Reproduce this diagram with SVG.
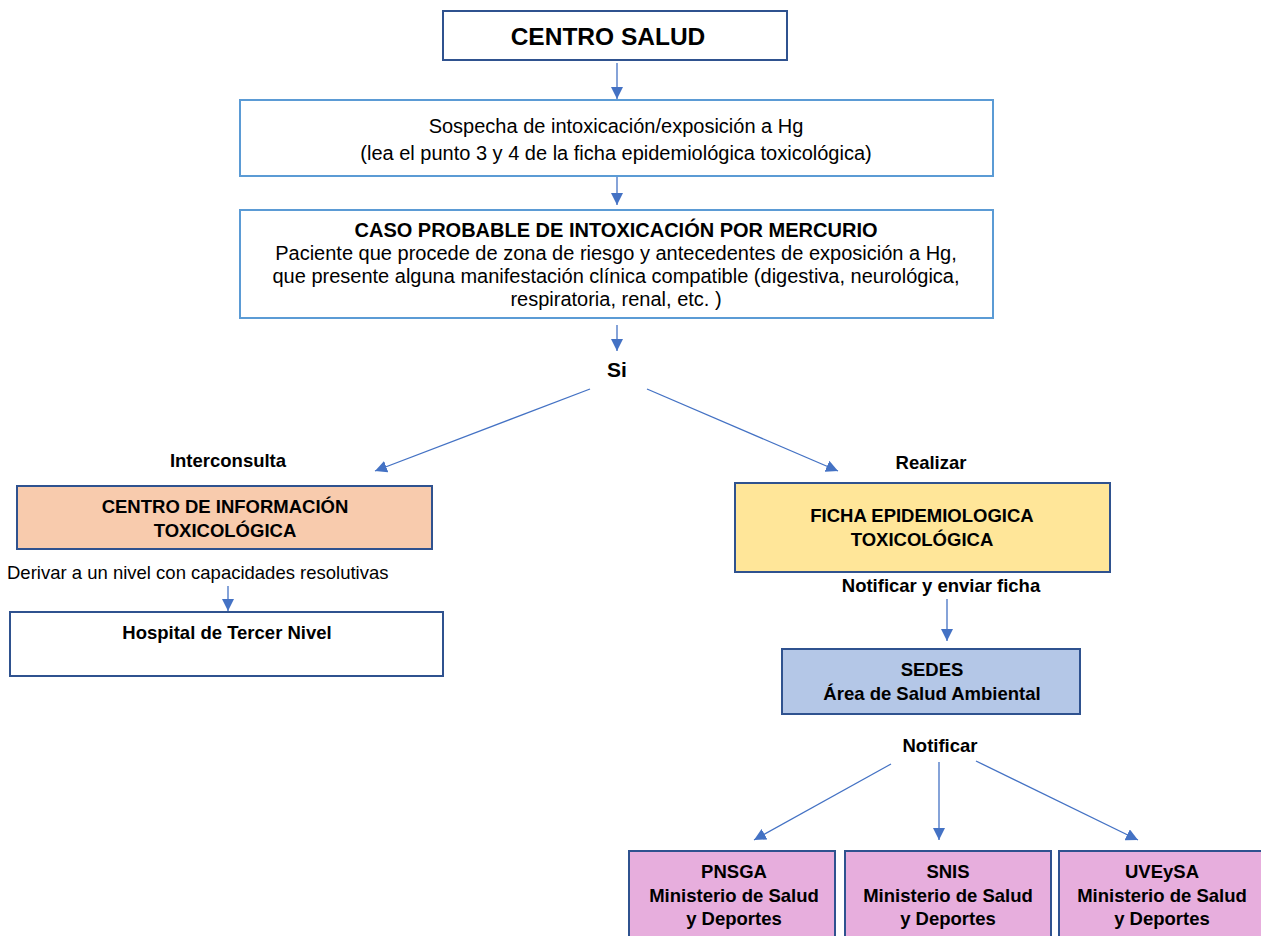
<svg xmlns="http://www.w3.org/2000/svg" width="1261" height="936" viewBox="0 0 1261 936">
<defs>
<marker id="ah" viewBox="0 0 12 12" refX="12" refY="6" markerWidth="12" markerHeight="12" markerUnits="userSpaceOnUse" orient="auto">
<path d="M0,0 L12,6 L0,12 z" fill="#4472C4"/>
</marker>
<style>
text{font-family:"Liberation Sans",Arial,sans-serif;fill:#000;text-anchor:middle}
.b{font-weight:bold}
.m{font-size:20px}
.s{font-size:18.5px}
.dk{stroke:#2F528F;stroke-width:2}
.lt{stroke:#5B9BD5;stroke-width:2;fill:#fff}
.c line{stroke:#4472C4;stroke-width:1.3;marker-end:url(#ah)}
</style>
</defs>
<rect width="1261" height="936" fill="#fff"/>
<g id="centro-salud">
<rect x="443" y="11" width="344" height="49" fill="#fff" class="dk"/>
<text x="608" y="45" class="b" font-size="24.5">CENTRO SALUD</text>
</g>
<g id="sospecha">
<rect x="240" y="100" width="753" height="76" class="lt"/>
<text x="616" y="133" class="m">Sospecha de intoxicación/exposición a Hg</text>
<text x="616" y="160" class="m">(lea el punto 3 y 4 de la ficha epidemiológica toxicológica)</text>
</g>
<g id="caso-probable">
<rect x="240" y="210" width="753" height="108" class="lt"/>
<text x="616" y="237" class="b m">CASO PROBABLE DE INTOXICACIÓN POR MERCURIO</text>
<text x="616" y="260" class="m">Paciente que procede de zona de riesgo y antecedentes de exposición a Hg,</text>
<text x="616" y="283" class="m">que presente alguna manifestación clínica compatible (digestiva, neurológica,</text>
<text x="616" y="306" class="m">respiratoria, renal, etc. )</text>
</g>
<g id="si-label"><text x="617" y="377" class="b" font-size="21">Si</text></g>
<g id="interconsulta-label"><text x="228" y="467" class="b s">Interconsulta</text></g>
<g id="realizar-label"><text x="931" y="469" class="b s">Realizar</text></g>
<g id="cit">
<rect x="17" y="486" width="415" height="63" fill="#F8CBAD" class="dk"/>
<text x="225" y="513" class="b s">CENTRO DE INFORMACIÓN</text>
<text x="225" y="537" class="b s">TOXICOLÓGICA</text>
</g>
<g id="derivar-label"><text x="7" y="579" class="s" style="text-anchor:start">Derivar a un nivel con capacidades resolutivas</text></g>
<g id="hospital">
<rect x="10" y="612" width="433" height="64" fill="#fff" class="dk"/>
<text x="227" y="639" class="b s">Hospital de Tercer Nivel</text>
</g>
<g id="ficha">
<rect x="735" y="483" width="375" height="89" fill="#FFE699" class="dk"/>
<text x="922" y="522" class="b s">FICHA EPIDEMIOLOGICA</text>
<text x="922" y="546" class="b s">TOXICOLÓGICA</text>
</g>
<g id="notificar-enviar-label"><text x="941" y="592" class="b s">Notificar y enviar ficha</text></g>
<g id="sedes">
<rect x="782" y="649" width="298" height="65" fill="#B4C7E7" class="dk"/>
<text x="932" y="676" class="b s">SEDES</text>
<text x="932" y="700" class="b s">Área de Salud Ambiental</text>
</g>
<g id="notificar-label"><text x="940" y="752" class="b s">Notificar</text></g>
<g id="pnsga">
<rect x="629" y="851" width="206" height="92" fill="#E7AEDD" class="dk"/>
<text x="734" y="878" class="b s">PNSGA</text>
<text x="734" y="902" class="b s">Ministerio de Salud</text>
<text x="734" y="925" class="b s">y Deportes</text>
</g>
<g id="snis">
<rect x="845" y="851" width="206" height="92" fill="#E7AEDD" class="dk"/>
<text x="948" y="878" class="b s">SNIS</text>
<text x="948" y="902" class="b s">Ministerio de Salud</text>
<text x="948" y="925" class="b s">y Deportes</text>
</g>
<g id="uveysa">
<rect x="1059" y="851" width="206" height="92" fill="#E7AEDD" class="dk"/>
<text x="1162" y="878" class="b s">UVEySA</text>
<text x="1162" y="902" class="b s">Ministerio de Salud</text>
<text x="1162" y="925" class="b s">y Deportes</text>
</g>
<g id="connectors" class="c">
<line x1="617" y1="63" x2="617" y2="99"/>
<line x1="617" y1="177" x2="617" y2="205"/>
<line x1="617" y1="325" x2="617" y2="351"/>
<line x1="590" y1="389" x2="375" y2="471"/>
<line x1="647" y1="389" x2="838" y2="471"/>
<line x1="228" y1="586" x2="228" y2="611"/>
<line x1="947" y1="599" x2="947" y2="641"/>
<line x1="891" y1="764" x2="754" y2="840"/>
<line x1="939" y1="762" x2="939" y2="840"/>
<line x1="976" y1="761" x2="1138" y2="840"/>
</g>
</svg>
